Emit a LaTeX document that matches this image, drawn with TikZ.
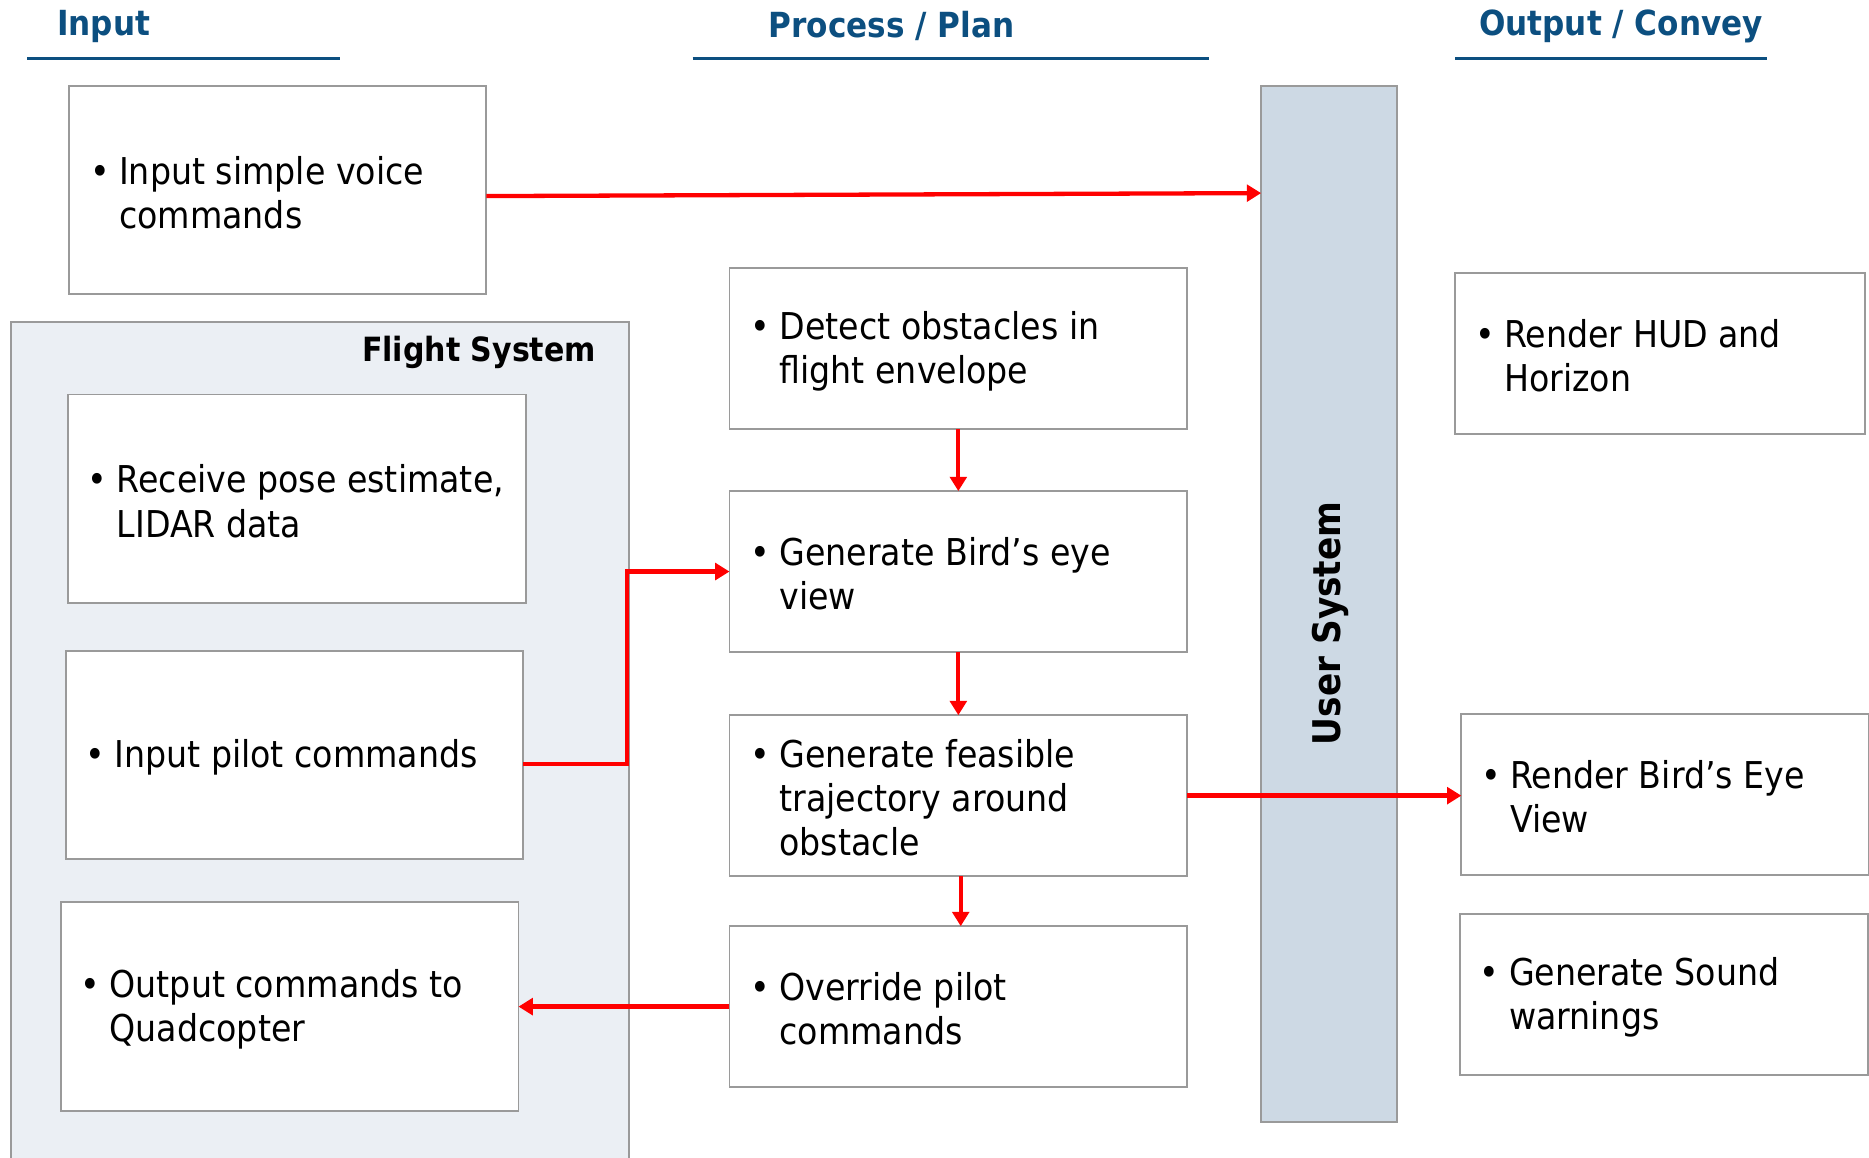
\documentclass[tikz,border=0pt]{standalone}
\usepackage{fontspec}
\setmainfont{DejaVu Sans Condensed}
\usetikzlibrary{arrows.meta,calc}
\definecolor{headblue}{HTML}{0C4F80}
\definecolor{boxgray}{HTML}{9A9A9A}
\definecolor{panelfill}{HTML}{EBEFF4}
\definecolor{userfill}{HTML}{CDD9E4}
\definecolor{flowred}{HTML}{FF0000}
\begin{document}
\begin{tikzpicture}[x=1pt,y=-1pt,
  every node/.style={inner sep=0pt,outer sep=0pt},
  bodytext/.style={font=\fontsize{31}{37}\selectfont,align=left,anchor=west},
  head/.style={font=\fontsize{29}{34}\selectfont\bfseries,text=headblue},
  headrule/.style={draw=headblue,line width=2.4pt},
  stepbox/.style={draw=boxgray,fill=white,line width=1.6pt,rectangle},
  flow/.style={draw=flowred,line width=3.6pt,-{Triangle[length=12pt,width=14pt]}}
]
\useasboundingbox (0,0) rectangle (1568,971);
\fill[white] (0,0) rectangle (1568,971);

% column headings
\node[head] (hin) at (87,22) {Input};
\draw[headrule] (23,49) -- (285,49);
\node[head] (hproc) at (748,22) {Process / Plan};
\draw[headrule] (581,49) -- (1014,49);
\node[head] (hout) at (1360,22) {Output / Convey};
\draw[headrule] (1221,49) -- (1482,49);

% flight system panel
\draw[draw=boxgray,fill=panelfill,line width=1.6pt] (9,990) -- (9,270) -- (528,270) -- (528,990);
\node[font=\fontsize{28}{34}\selectfont\bfseries,anchor=east] (fslabel) at (500,296) {Flight System};

% user system bar
\node[stepbox,fill=userfill,minimum width=114pt,minimum height=869pt] (user) at (1115,506.5) {};
\node[font=\fontsize{32}{38}\selectfont\bfseries,rotate=90] (userlabel) at (1116,523) {User System};

% boxes with one bullet item each
\newcommand{\bulletbox}[6]{%
  \node[stepbox,minimum width=#3pt,minimum height=#4pt] (#1) at (#2) {};
  \node[bodytext] (#1t) at ([xshift=#5pt,yshift=-2pt]#1.west) {\llap{\textbullet\hspace{8pt}}#6};
}
\bulletbox{voice}{233,159.5}{350}{175}{42}{Input simple voice\\commands}
\bulletbox{pose}{249,418.5}{384}{175}{41}{Receive pose estimate,\\LIDAR data}
\bulletbox{pilot}{247,633.5}{384}{175}{41}{Input pilot commands}
\bulletbox{outcmd}{243,844.5}{384}{175}{41}{Output commands to\\Quadcopter}
\bulletbox{detect}{804,292.5}{384}{135}{42}{Detect obstacles in\\flight envelope}
\bulletbox{bird}{804,479.5}{384}{135}{42}{Generate Bird’s eye\\view}
\bulletbox{feas}{804,667.5}{384}{135}{42}{Generate feasible\\trajectory around\\obstacle}
\bulletbox{over}{804,844.5}{384}{135}{42}{Override pilot\\commands}
\bulletbox{hud}{1393,296.5}{344}{135}{41}{Render HUD and\\Horizon}
\bulletbox{rbird}{1397,666.5}{342}{135}{41}{Render Bird’s Eye\\View}
\bulletbox{sound}{1396,834.5}{342}{135}{41}{Generate Sound\\warnings}

% connectors
\draw[flow] ([yshift=-5pt]voice.east) -- ([yshift=-2.5pt]voice.east -| user.west);
\draw[flow] (detect.south) -- (bird.north);
\draw[flow] (bird.south) -- (feas.north);
\draw[flow] ([xshift=2pt]feas.south) -- ([xshift=2pt]over.north);
\draw[flow] ([yshift=-7.5pt]pilot.east) -- ++(87,0) |- (bird.west);
\draw[flow] (feas.east) -- (feas.east -| rbird.west);
\draw[flow] (over.west) -- (over.west -| outcmd.east);
\end{tikzpicture}
\end{document}
